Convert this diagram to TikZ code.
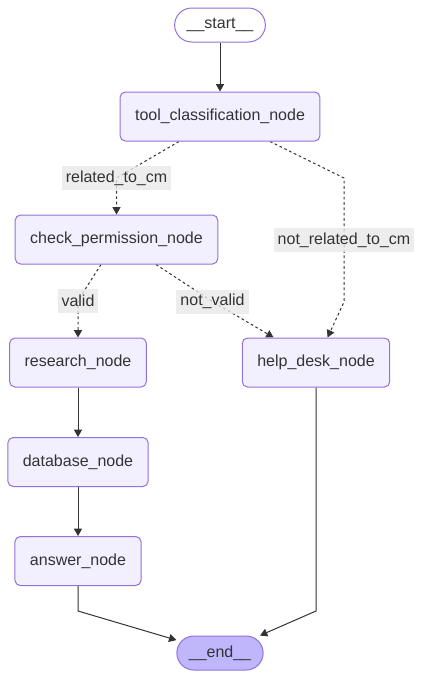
\documentclass[tikz,border=0pt]{standalone}
\usepackage{fontspec}
\setmainfont{Liberation Sans}
\usetikzlibrary{arrows.meta,calc,backgrounds}
\definecolor{mmFill}{HTML}{F2F0FF}
\definecolor{mmStroke}{HTML}{9370DB}
\definecolor{mmEnd}{HTML}{BFB6FC}
\definecolor{mmText}{HTML}{333333}
\definecolor{mmLabel}{HTML}{E8E8E8}
\tikzset{
  gnode/.style={rounded corners=4pt, draw=mmStroke, fill=mmFill, line width=0.75pt,
    text=mmText, font=\fontsize{12}{14}\selectfont, minimum height=36.75pt, inner xsep=11.25pt},
  term/.style={gnode, rounded corners=12.75pt, minimum height=25.5pt, inner xsep=9pt},
  elabel/.style={fill=mmLabel, fill opacity=0.8, text opacity=1, text=mmText,
    font=\fontsize{12}{14}\selectfont, inner xsep=3pt, inner ysep=0pt, minimum height=18pt},
  flow/.style={draw=mmText, line width=0.75pt, -{Triangle[length=5.5pt,width=6pt]}},
  cond/.style={flow, dash pattern=on 2pt off 2pt}
}

\begin{document}
\begin{tikzpicture}[x=0.75pt, y=-0.75pt]
    \useasboundingbox (0,0) rectangle (423,678);
    % graph nodes
    \node[term, fill=white] (start) at (220,25) {\_\_start\_\_};
    \node[gnode] (tool) at (220,116.5) {tool\_classification\_node};
    \node[gnode] (check) at (116.5,239.5) {check\_permission\_node};
    \node[gnode] (research) at (78,362.5) {research\_node};
    \node[gnode] (help) at (316,362.5) {help\_desk\_node};
    \node[gnode] (database) at (78,462) {database\_node};
    \node[gnode] (answer) at (78,561) {answer\_node};
    \node[term, fill=mmEnd] (finish) at (220,653) {\_\_end\_\_};
    % edge labels
    \node[elabel] (relcm) at (116.5,178) {related\_to\_cm};
    \node[elabel] (notrel) at (344,240) {not\_related\_to\_cm};
    \node[elabel] (valid) at (78,300.5) {valid};
    \node[elabel] (notvalid) at (212.5,301.5) {not\_valid};
    % bends
    \coordinate (k1) at (344,178);
    \coordinate (k2) at (344,302);
    \coordinate (a1) at (78,611);
    \coordinate (h1) at (316,611);
    \begin{scope}[on background layer]
      \draw[flow] (start) -- (tool);
      \draw[cond] ($(tool.south)+(-41,0)$) -- (relcm.center) -- (check);
      \draw[cond] ($(tool.south)+(50,0)$) -- (k1) -- (notrel.center) -- (k2) -- (help);
      \draw[cond] ($(check.south)+(-15.5,0)$) -- (valid.center) -- (research);
      \draw[cond] ($(check.south)+(39.5,0)$) -- (notvalid.center) -- (help);
      \draw[flow] (research) -- (database);
      \draw[flow] (database) -- (answer);
      \draw[flow] (answer) -- (a1) -- (finish);
      \draw[flow] (help) -- (h1) -- (finish);
    \end{scope}
\end{tikzpicture}
\end{document}
